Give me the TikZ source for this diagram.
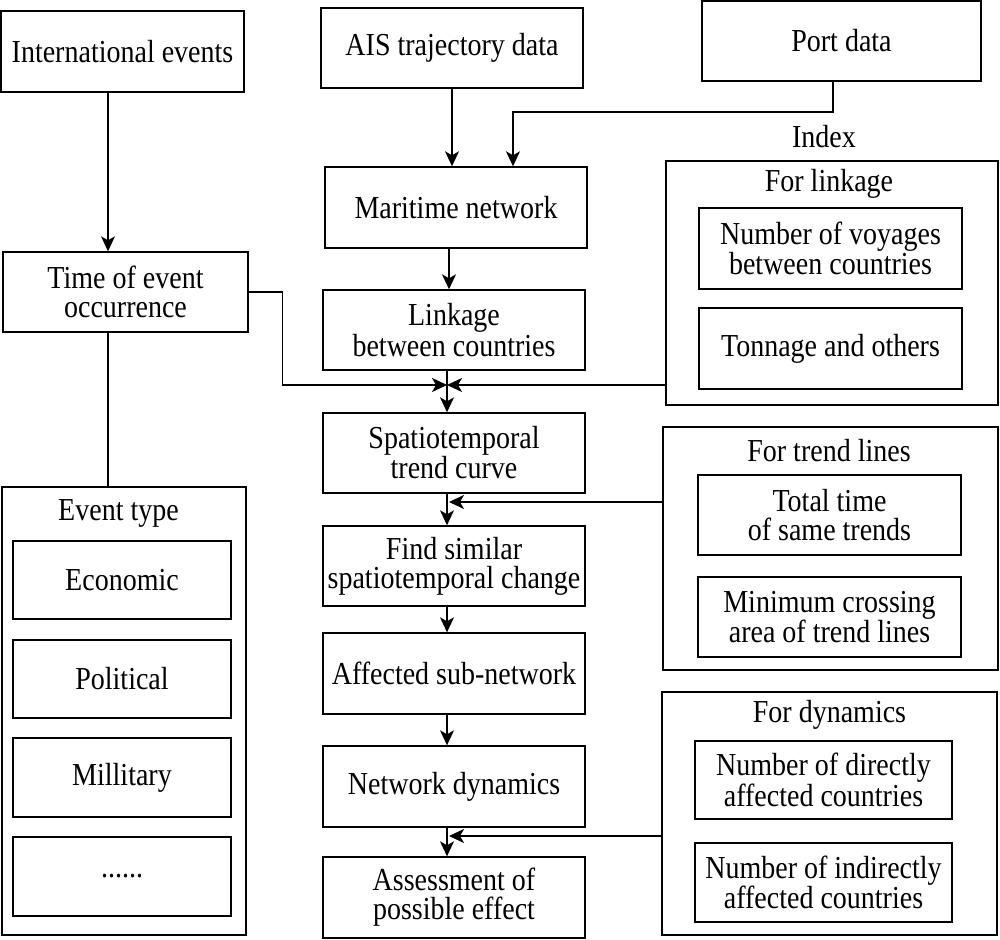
\documentclass[tikz,border=0pt]{standalone}
\usepackage{fontspec}
\setmainfont[FakeStretch=0.875]{Liberation Serif}
\usetikzlibrary{arrows.meta,calc}
\begin{document}
\begin{tikzpicture}[x=1pt,y=-1pt,
  txt/.style={font=\fontsize{32}{29}\selectfont},
  box/.style={draw, line width=1.4pt, inner sep=0pt, align=center, txt},
  wh/.style n args={2}{minimum width=#1pt, minimum height=#2pt},
  lbl/.style={inner sep=0pt, align=center, txt},
  arr/.style={-{Stealth[length=15pt,width=14pt,inset=4pt]}, line width=1.4pt},
  con/.style={line width=1.4pt}]
\useasboundingbox (0,0) rectangle (1000,939);

% top row
\node[box, wh={243}{81}] (intl) at (122.5,51.5) {International events};
\node[box, wh={262}{80}] (ais) at (452,48) {AIS trajectory data};
\node[box, wh={279}{80}] (port) at (841.5,41) {Port data};

% left column
\node[box, wh={245}{80}] (time) at (125.5,292) {Time of event\\occurrence};
\node[box, wh={244}{448}] (event) at (124,711) {};
\node[lbl] (eventlbl) at (118.5,513) {Event type};
\node[box, wh={218}{78}] (econ) at (122,580) {Economic};
\node[box, wh={218}{78}] (poli) at (122,679) {Political};
\node[box, wh={218}{79}] (mili) at (122,777.5) {Millitary};
\node[box, wh={218}{79}] (dots) at (122,876.5) {......};

% center column
\node[box, wh={262}{81}] (mar) at (456,207.5) {Maritime network};
\node[box, wh={262}{80}] (link) at (454,330) {Linkage\\between countries};
\node[box, wh={262}{80}] (spat) at (454,453) {Spatiotemporal\\trend curve};
\node[box, wh={262}{80}] (find) at (454,566) {Find similar\\spatiotemporal change};
\node[box, wh={262}{81}] (aff) at (454,673.5) {Affected sub-network};
\node[box, wh={262}{81}] (netd) at (454,786.5) {Network dynamics};
\node[box, wh={262}{81}] (ass) at (454,897.5) {Assessment of\\possible effect};

% right column: index
\node[lbl] (index) at (824,137) {Index};
\node[box, wh={332}{244}] (idx) at (832,283) {};
\node[lbl] (linklbl) at (829,184) {For linkage};
\node[box, wh={263}{81}] (voy) at (830.5,248.5) {Number of voyages\\between countries};
\node[box, wh={263}{81}] (ton) at (830.5,348.5) {Tonnage and others};

\node[box, wh={335}{243}] (trend) at (830.5,548.5) {};
\node[lbl] (trendlbl) at (829,451) {For trend lines};
\node[box, wh={263}{80}] (tot) at (829.5,515) {Total time\\of same trends};
\node[box, wh={263}{80}] (mincr) at (829.5,617) {Minimum crossing\\area of trend lines};

\node[box, wh={335}{243}] (dyn) at (829.5,813.5) {};
\node[lbl] (dynlbl) at (829.5,715) {For dynamics};
\node[box, wh={257}{78}] (dir) at (823.5,780) {Number of directly\\affected countries};
\node[box, wh={257}{79}] (ind) at (823.5,882.5) {Number of indirectly\\affected countries};

% helper coordinates
\coordinate (lx) at (108,0);
\coordinate (cx) at (447,0);
\coordinate (m1) at (447,385);
\coordinate (m2) at (449,502);
\coordinate (m3) at (449,836);
\coordinate (p1) at (833,112);
\coordinate (p2) at (513,112);

% connectors
\draw[arr] (intl.south -| lx) -- (time.north -| lx);
\draw[con] (time.south -| lx) -- (event.north -| lx);
\draw[arr] (ais.south) -- (ais.south |- mar.north);
\draw[arr] (port.south -| p1) -- (p1) -- (p2) -- (p2 |- mar.north);
\draw[arr] ($(mar.south)+(-7,0)$) -- ($(mar.south |- link.north)+(-7,0)$);
\draw[arr] (time.east) -- ++(34,0) |- (m1);
\draw[arr] (idx.west |- m1) -- (m1);
\draw[arr] (link.south -| cx) -- (spat.north -| cx);
\draw[arr] (spat.south -| cx) -- (find.north -| cx);
\draw[arr] (trend.west |- m2) -- (m2);
\draw[arr] (find.south -| cx) -- (aff.north -| cx);
\draw[arr] (aff.south -| cx) -- (netd.north -| cx);
\draw[arr] (netd.south -| cx) -- (ass.north -| cx);
\draw[arr] (dyn.west |- m3) -- (m3);
\end{tikzpicture}
\end{document}
